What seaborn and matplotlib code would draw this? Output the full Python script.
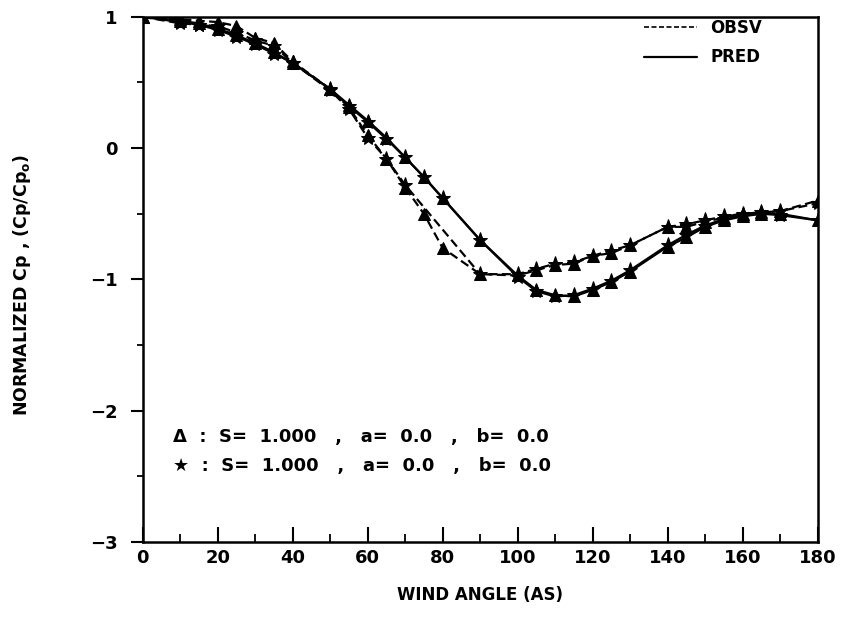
import numpy as np
import pandas as pd
import matplotlib
matplotlib.use("Agg")
import matplotlib.pyplot as plt
from matplotlib.lines import Line2D
from matplotlib.ticker import MultipleLocator
import seaborn as sns

# wind angles (deg)
angles = [0, 10, 15, 20, 25, 30, 35, 40, 50, 55, 60, 65, 70, 75, 80, 90,
          100, 105, 110, 115, 120, 125, 130, 140, 145, 150, 155, 160, 165, 170, 180]
# star observed series has no points between 70 and 90
angles_star_obs = [a for a in angles if a not in (75, 80)]

tri_obs = [1.00, 0.98, 0.97, 0.96, 0.93, 0.84, 0.80, 0.66, 0.45, 0.31, 0.10, -0.08, -0.30,
           -0.50, -0.76, -0.96, -0.97, -0.93, -0.89, -0.88, -0.82, -0.80, -0.74, -0.60,
           -0.60, -0.56, -0.53, -0.50, -0.49, -0.48, -0.40]
star_obs = [1.00, 0.95, 0.94, 0.93, 0.88, 0.82, 0.78, 0.65, 0.44, 0.30, 0.08, -0.08, -0.28,
            -0.96, -0.96, -0.92, -0.88, -0.87, -0.82, -0.78, -0.74, -0.60, -0.58, -0.55,
            -0.52, -0.50, -0.49, -0.48, -0.42]
tri_pred = [1.00, 0.97, 0.95, 0.91, 0.86, 0.80, 0.73, 0.65, 0.45, 0.33, 0.21, 0.08, -0.07,
            -0.22, -0.38, -0.70, -0.97, -1.08, -1.12, -1.13, -1.08, -1.02, -0.94, -0.75,
            -0.68, -0.60, -0.55, -0.52, -0.50, -0.50, -0.55]
star_pred = [1.00, 0.96, 0.94, 0.90, 0.85, 0.79, 0.72, 0.65, 0.45, 0.32, 0.20, 0.07, -0.07,
             -0.22, -0.38, -0.70, -0.98, -1.09, -1.13, -1.12, -1.07, -1.01, -0.93, -0.74,
             -0.66, -0.59, -0.54, -0.51, -0.50, -0.51, -0.55]

x_ticks = [0, 20, 40, 60, 80, 100, 120, 140, 160, 180]
y_ticks = [1, 0, -1, -2, -3]

sns.set_style("ticks")
plt.rcParams['font.family'] = ['DejaVu Sans']
plt.rcParams.update({'text.color': 'black', 'axes.labelcolor': 'black',
                     'xtick.color': 'black', 'ytick.color': 'black',
                     'axes.edgecolor': 'black', 'font.weight': 'bold'})

fig = plt.figure(figsize=(8.49, 6.23), dpi=100)
ax = fig.add_axes([0.168, 0.130, 0.795, 0.843])

series = [
    (angles, tri_obs, '^', (4, 2)),
    (angles_star_obs, star_obs, '*', (4, 2)),
    (angles, tri_pred, '^', ''),
    (angles, star_pred, '*', ''),
]
for xs, ys, mk, dash in series:
    d = pd.DataFrame({'angle': xs, 'cp': ys})
    ls = '-' if dash == '' else (0, dash)
    sns.lineplot(data=d, x='angle', y='cp', ax=ax, color='black', linewidth=1.6,
                 linestyle=ls, marker=mk, markersize=8 if mk == '^' else 11,
                 markeredgecolor='black', markerfacecolor='black', sort=False)

ax.set_xlim(0, 180)
ax.set_ylim(-3, 1)
ax.set_xticks(x_ticks)
ax.set_yticks(y_ticks)
ax.set_yticklabels(['1', '0', '\u22121', '\u22122', '\u22123'])
ax.xaxis.set_minor_locator(MultipleLocator(10))
ax.yaxis.set_minor_locator(MultipleLocator(0.5))
ax.tick_params(axis='x', which='major', direction='in', length=11, width=1.5,
               labelsize=13, pad=5)
ax.tick_params(axis='x', which='minor', direction='in', length=6, width=1.3)
ax.tick_params(axis='y', which='major', direction='out', length=9, width=1.5,
               labelsize=13, pad=9)
ax.tick_params(axis='y', which='minor', direction='out', length=4, width=1.3)
for s in ax.spines.values():
    s.set_linewidth(1.8)

ax.set_xlabel('WIND ANGLE (AS)', fontsize=12, fontweight='bold', labelpad=14)
ax.set_ylabel(r'NORMALIZED Cp , (Cp/Cp$_\mathregular{o}$)', fontsize=12.5, fontweight='bold')
ax.yaxis.set_label_coords(-0.162, 0.49)

ax.text(8, -2.2, '\u0394  :  S=  1.000   ,   a=  0.0   ,   b=  0.0', fontsize=13,
        fontweight='bold', va='center')
ax.text(8, -2.42, '\u2605  :  S=  1.000   ,   a=  0.0   ,   b=  0.0', fontsize=13,
        fontweight='bold', va='center')

handles = [Line2D([], [], color='black', linestyle=(0, (3, 1.5)), linewidth=1.2),
           Line2D([], [], color='black', linestyle='-', linewidth=1.6)]
leg = ax.legend(handles, ['OBSV', 'PRED'], loc='upper right', bbox_to_anchor=(0.94, 1.025),
                frameon=False, fontsize=12, handlelength=3.2, handletextpad=0.8,
                labelspacing=0.7)
for t in leg.get_texts():
    t.set_fontweight('bold')

fig.savefig('out.png', dpi=100)
